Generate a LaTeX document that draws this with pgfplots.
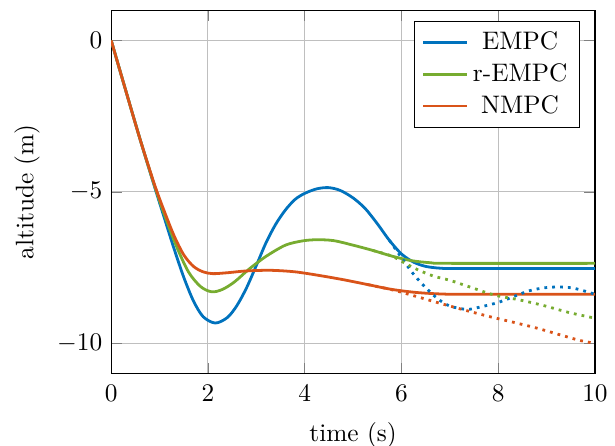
\documentclass[border=0pt]{standalone}
\usepackage{pgfplots}
\pgfplotsset{compat=1.18}
\definecolor{mblue}{RGB}{0,114,189}
\definecolor{mgreen}{RGB}{119,172,48}
\definecolor{morange}{RGB}{217,83,25}
\begin{document}
\begin{tikzpicture}
\begin{axis}[
  scale only axis,
  width=191pt, height=143.5pt,
  xmin=0, xmax=10, ymin=-11, ymax=1,
  xtick={0,2,4,6,8,10}, ytick={-10,-5,0},
  grid=major,
  xlabel={time (s)}, ylabel={altitude (m)},
  xticklabel style={yshift=-1.2pt},
  xlabel style={yshift=-1.2pt},
  legend pos=north east,
  legend cell align=center,
  every axis plot/.append style={line width=1.1pt},
]
% solid responses
\addplot[mblue, smooth] coordinates {
(0,0) (0.3,-1.65) (0.6,-3.28) (0.9,-4.85) (1.1,-5.87) (1.3,-6.88) (1.5,-7.82)
(1.7,-8.6) (1.9,-9.12) (2.15,-9.33) (2.4,-9.15) (2.6,-8.75) (2.8,-8.16)
(3.0,-7.43) (3.2,-6.68) (3.4,-6.07) (3.6,-5.6) (3.8,-5.25) (4.0,-5.05)
(4.25,-4.9) (4.49,-4.86) (4.73,-4.95) (5.0,-5.2) (5.25,-5.55) (5.5,-6.05)
(5.75,-6.6) (6.0,-7.05) (6.25,-7.32) (6.5,-7.46) (6.8,-7.52) (7.2,-7.53) (10,-7.53)};
\addlegendentry{EMPC}
\addplot[mgreen, smooth] coordinates {
(0,0) (0.3,-1.65) (0.6,-3.28) (0.9,-4.82) (1.1,-5.75) (1.35,-6.8) (1.6,-7.65)
(1.85,-8.13) (2.08,-8.3) (2.3,-8.22) (2.55,-7.97) (2.85,-7.55) (3.2,-7.13)
(3.6,-6.76) (3.95,-6.62) (4.25,-6.58) (4.6,-6.61) (5.0,-6.76) (5.4,-6.93)
(5.8,-7.12) (6.2,-7.27) (6.6,-7.34) (7.0,-7.36) (10,-7.36)};
\addlegendentry{r-EMPC}
\addplot[morange, smooth] coordinates {
(0,0) (0.3,-1.65) (0.6,-3.28) (0.9,-4.78) (1.1,-5.65) (1.3,-6.45) (1.5,-7.08)
(1.7,-7.46) (1.9,-7.64) (2.1,-7.7) (2.4,-7.67) (2.8,-7.61) (3.3,-7.59)
(3.8,-7.64) (4.3,-7.76) (4.8,-7.9) (5.3,-8.06) (5.8,-8.22) (6.3,-8.32)
(6.8,-8.37) (7.3,-8.38) (10,-8.38)};
\addlegendentry{NMPC}
% dotted predictions
\addplot[mblue, dotted, smooth, forget plot] coordinates {
(5.75,-6.6) (6.0,-7.17) (6.25,-7.72) (6.5,-8.16) (6.75,-8.53) (7.0,-8.77)
(7.35,-8.88) (7.63,-8.8) (8.0,-8.65) (8.3,-8.47) (8.63,-8.27) (8.94,-8.17)
(9.25,-8.14) (9.56,-8.18) (9.9,-8.33) (10,-8.38)};
\addplot[mgreen, dotted, smooth, forget plot] coordinates {
(5.4,-6.93) (5.8,-7.12) (6.1,-7.38) (6.35,-7.58) (6.66,-7.78) (7.0,-7.92)
(7.45,-8.16) (7.93,-8.41) (8.45,-8.57) (8.93,-8.75) (9.48,-8.99) (10,-9.17)};
\addplot[morange, dotted, smooth, forget plot] coordinates {
(5.3,-8.06) (5.8,-8.23) (6.3,-8.45) (6.8,-8.68) (7.3,-8.9) (7.8,-9.11)
(8.3,-9.3) (8.8,-9.5) (9.3,-9.73) (9.7,-9.91) (10,-10.0)};
\coordinate (bl) at (rel axis cs:0,0);
\coordinate (tr) at (rel axis cs:1,1);
\end{axis}
\pgfresetboundingbox
\path ([shift={(-43.9pt,-28.5pt)}]bl) rectangle ([shift={(7.9pt,4pt)}]tr);
\end{tikzpicture}
\end{document}
